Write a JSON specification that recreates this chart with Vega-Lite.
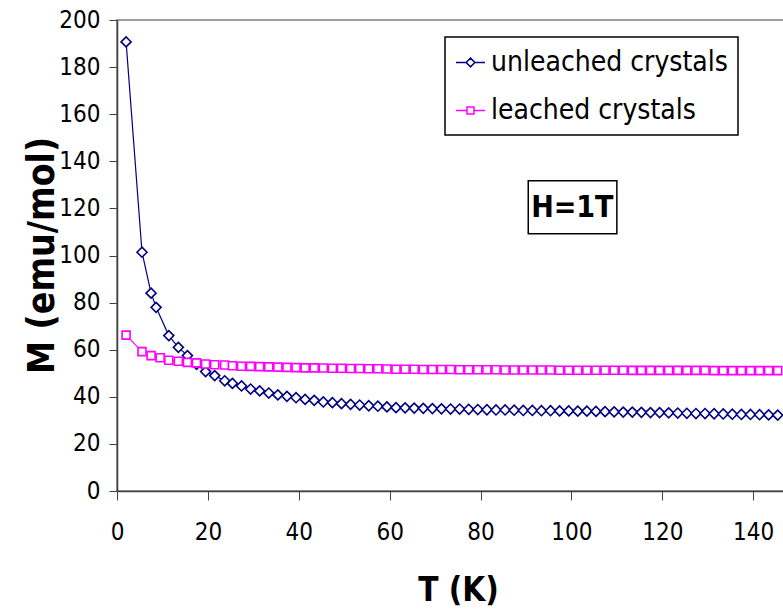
{
  "$schema": "https://vega.github.io/schema/vega-lite/v6.json",
  "autosize": "none",
  "padding": {"left": 117, "top": 20, "right": 0, "bottom": 118},
  "width": 668,
  "height": 471,
  "background": "white",
  "config": {
    "view": {"stroke": "#808080", "strokeWidth": 1.5},
    "font": "DejaVu Sans Condensed",
    "axis": {
      "grid": false,
      "labelFont": "DejaVu Sans Condensed",
      "labelFontSize": 24,
      "labelColor": "black",
      "domainColor": "#404040",
      "domainWidth": 1.5,
      "tickColor": "#404040",
      "tickWidth": 1,
      "titleFont": "DejaVu Sans Condensed",
      "titleFontWeight": "bold",
      "titleColor": "black"
    },
    "legend": {
      "title": null,
      "orient": "none",
      "legendX": 328,
      "legendY": 17,
      "padding": 10,
      "strokeColor": "black",
      "fillColor": "white",
      "labelFont": "DejaVu Sans Condensed",
      "labelFontSize": 28,
      "labelColor": "black",
      "labelLimit": 400,
      "labelOffset": 5,
      "rowPadding": 18,
      "symbolSize": 841,
      "symbolStrokeWidth": 1.5
    }
  },
  "datasets": {
    "m": [
      {"T": 2, "M": 190.7, "series": "unleached crystals"},
      {"T": 5.5, "M": 101.4, "series": "unleached crystals"},
      {"T": 7.5, "M": 84, "series": "unleached crystals"},
      {"T": 8.6, "M": 78, "series": "unleached crystals"},
      {"T": 11.4, "M": 66, "series": "unleached crystals"},
      {"T": 13.5, "M": 61, "series": "unleached crystals"},
      {"T": 15.5, "M": 57.5, "series": "unleached crystals"},
      {"T": 17.5, "M": 53.8, "series": "unleached crystals"},
      {"T": 19.5, "M": 50.7, "series": "unleached crystals"},
      {"T": 21.5, "M": 49, "series": "unleached crystals"},
      {"T": 23.7, "M": 46.8, "series": "unleached crystals"},
      {"T": 25.4, "M": 45.7, "series": "unleached crystals"},
      {"T": 27.4, "M": 44.6, "series": "unleached crystals"},
      {"T": 29.4, "M": 43.3, "series": "unleached crystals"},
      {"T": 31.4, "M": 42.5, "series": "unleached crystals"},
      {"T": 33.4, "M": 41.6, "series": "unleached crystals"},
      {"T": 35.4, "M": 40.8, "series": "unleached crystals"},
      {"T": 37.4, "M": 40.2, "series": "unleached crystals"},
      {"T": 39.4, "M": 39.6, "series": "unleached crystals"},
      {"T": 41.4, "M": 38.9, "series": "unleached crystals"},
      {"T": 43.4, "M": 38.5, "series": "unleached crystals"},
      {"T": 45.4, "M": 37.8, "series": "unleached crystals"},
      {"T": 47.4, "M": 37.5, "series": "unleached crystals"},
      {"T": 49.4, "M": 37.1, "series": "unleached crystals"},
      {"T": 51.4, "M": 36.8, "series": "unleached crystals"},
      {"T": 53.4, "M": 36.5, "series": "unleached crystals"},
      {"T": 55.4, "M": 36.2, "series": "unleached crystals"},
      {"T": 57.4, "M": 36.0, "series": "unleached crystals"},
      {"T": 59.4, "M": 35.7, "series": "unleached crystals"},
      {"T": 61.4, "M": 35.4, "series": "unleached crystals"},
      {"T": 63.4, "M": 35.3, "series": "unleached crystals"},
      {"T": 65.4, "M": 35.2, "series": "unleached crystals"},
      {"T": 67.4, "M": 35.1, "series": "unleached crystals"},
      {"T": 69.4, "M": 35.0, "series": "unleached crystals"},
      {"T": 71.4, "M": 34.9, "series": "unleached crystals"},
      {"T": 73.4, "M": 34.8, "series": "unleached crystals"},
      {"T": 75.4, "M": 34.8, "series": "unleached crystals"},
      {"T": 77.4, "M": 34.7, "series": "unleached crystals"},
      {"T": 79.4, "M": 34.6, "series": "unleached crystals"},
      {"T": 81.4, "M": 34.5, "series": "unleached crystals"},
      {"T": 83.4, "M": 34.4, "series": "unleached crystals"},
      {"T": 85.4, "M": 34.4, "series": "unleached crystals"},
      {"T": 87.4, "M": 34.3, "series": "unleached crystals"},
      {"T": 89.4, "M": 34.2, "series": "unleached crystals"},
      {"T": 91.4, "M": 34.2, "series": "unleached crystals"},
      {"T": 93.4, "M": 34.1, "series": "unleached crystals"},
      {"T": 95.4, "M": 34.1, "series": "unleached crystals"},
      {"T": 97.4, "M": 34.0, "series": "unleached crystals"},
      {"T": 99.4, "M": 34.0, "series": "unleached crystals"},
      {"T": 101.4, "M": 33.9, "series": "unleached crystals"},
      {"T": 103.4, "M": 33.9, "series": "unleached crystals"},
      {"T": 105.4, "M": 33.8, "series": "unleached crystals"},
      {"T": 107.4, "M": 33.7, "series": "unleached crystals"},
      {"T": 109.4, "M": 33.6, "series": "unleached crystals"},
      {"T": 111.4, "M": 33.5, "series": "unleached crystals"},
      {"T": 113.4, "M": 33.5, "series": "unleached crystals"},
      {"T": 115.4, "M": 33.4, "series": "unleached crystals"},
      {"T": 117.4, "M": 33.3, "series": "unleached crystals"},
      {"T": 119.4, "M": 33.3, "series": "unleached crystals"},
      {"T": 121.4, "M": 33.2, "series": "unleached crystals"},
      {"T": 123.4, "M": 33.1, "series": "unleached crystals"},
      {"T": 125.4, "M": 33.0, "series": "unleached crystals"},
      {"T": 127.4, "M": 32.9, "series": "unleached crystals"},
      {"T": 129.4, "M": 32.9, "series": "unleached crystals"},
      {"T": 131.4, "M": 32.8, "series": "unleached crystals"},
      {"T": 133.4, "M": 32.7, "series": "unleached crystals"},
      {"T": 135.4, "M": 32.6, "series": "unleached crystals"},
      {"T": 137.4, "M": 32.5, "series": "unleached crystals"},
      {"T": 139.4, "M": 32.5, "series": "unleached crystals"},
      {"T": 141.4, "M": 32.4, "series": "unleached crystals"},
      {"T": 143.4, "M": 32.3, "series": "unleached crystals"},
      {"T": 145.4, "M": 32.2, "series": "unleached crystals"},
      {"T": 2, "M": 66.2, "series": "leached crystals"},
      {"T": 5.5, "M": 59.2, "series": "leached crystals"},
      {"T": 7.5, "M": 57.5, "series": "leached crystals"},
      {"T": 9.5, "M": 56.6, "series": "leached crystals"},
      {"T": 11.4, "M": 55.5, "series": "leached crystals"},
      {"T": 13.5, "M": 55.1, "series": "leached crystals"},
      {"T": 15.5, "M": 54.6, "series": "leached crystals"},
      {"T": 17.5, "M": 54.4, "series": "leached crystals"},
      {"T": 19.5, "M": 53.9, "series": "leached crystals"},
      {"T": 21.5, "M": 53.6, "series": "leached crystals"},
      {"T": 23.7, "M": 53.5, "series": "leached crystals"},
      {"T": 25.4, "M": 53.2, "series": "leached crystals"},
      {"T": 27.4, "M": 53.0, "series": "leached crystals"},
      {"T": 29.4, "M": 52.9, "series": "leached crystals"},
      {"T": 31.4, "M": 52.8, "series": "leached crystals"},
      {"T": 33.4, "M": 52.7, "series": "leached crystals"},
      {"T": 35.4, "M": 52.6, "series": "leached crystals"},
      {"T": 37.4, "M": 52.5, "series": "leached crystals"},
      {"T": 39.4, "M": 52.4, "series": "leached crystals"},
      {"T": 41.4, "M": 52.3, "series": "leached crystals"},
      {"T": 43.4, "M": 52.3, "series": "leached crystals"},
      {"T": 45.4, "M": 52.2, "series": "leached crystals"},
      {"T": 47.4, "M": 52.1, "series": "leached crystals"},
      {"T": 49.4, "M": 52.1, "series": "leached crystals"},
      {"T": 51.4, "M": 52.0, "series": "leached crystals"},
      {"T": 53.4, "M": 52.0, "series": "leached crystals"},
      {"T": 55.4, "M": 51.9, "series": "leached crystals"},
      {"T": 57.4, "M": 51.9, "series": "leached crystals"},
      {"T": 59.4, "M": 51.8, "series": "leached crystals"},
      {"T": 61.4, "M": 51.7, "series": "leached crystals"},
      {"T": 63.4, "M": 51.7, "series": "leached crystals"},
      {"T": 65.4, "M": 51.7, "series": "leached crystals"},
      {"T": 67.4, "M": 51.6, "series": "leached crystals"},
      {"T": 69.4, "M": 51.6, "series": "leached crystals"},
      {"T": 71.4, "M": 51.6, "series": "leached crystals"},
      {"T": 73.4, "M": 51.6, "series": "leached crystals"},
      {"T": 75.4, "M": 51.5, "series": "leached crystals"},
      {"T": 77.4, "M": 51.5, "series": "leached crystals"},
      {"T": 79.4, "M": 51.5, "series": "leached crystals"},
      {"T": 81.4, "M": 51.5, "series": "leached crystals"},
      {"T": 83.4, "M": 51.5, "series": "leached crystals"},
      {"T": 85.4, "M": 51.4, "series": "leached crystals"},
      {"T": 87.4, "M": 51.4, "series": "leached crystals"},
      {"T": 89.4, "M": 51.4, "series": "leached crystals"},
      {"T": 91.4, "M": 51.4, "series": "leached crystals"},
      {"T": 93.4, "M": 51.4, "series": "leached crystals"},
      {"T": 95.4, "M": 51.4, "series": "leached crystals"},
      {"T": 97.4, "M": 51.3, "series": "leached crystals"},
      {"T": 99.4, "M": 51.3, "series": "leached crystals"},
      {"T": 101.4, "M": 51.3, "series": "leached crystals"},
      {"T": 103.4, "M": 51.3, "series": "leached crystals"},
      {"T": 105.4, "M": 51.3, "series": "leached crystals"},
      {"T": 107.4, "M": 51.3, "series": "leached crystals"},
      {"T": 109.4, "M": 51.3, "series": "leached crystals"},
      {"T": 111.4, "M": 51.3, "series": "leached crystals"},
      {"T": 113.4, "M": 51.2, "series": "leached crystals"},
      {"T": 115.4, "M": 51.2, "series": "leached crystals"},
      {"T": 117.4, "M": 51.2, "series": "leached crystals"},
      {"T": 119.4, "M": 51.2, "series": "leached crystals"},
      {"T": 121.4, "M": 51.2, "series": "leached crystals"},
      {"T": 123.4, "M": 51.2, "series": "leached crystals"},
      {"T": 125.4, "M": 51.2, "series": "leached crystals"},
      {"T": 127.4, "M": 51.2, "series": "leached crystals"},
      {"T": 129.4, "M": 51.2, "series": "leached crystals"},
      {"T": 131.4, "M": 51.1, "series": "leached crystals"},
      {"T": 133.4, "M": 51.1, "series": "leached crystals"},
      {"T": 135.4, "M": 51.1, "series": "leached crystals"},
      {"T": 137.4, "M": 51.1, "series": "leached crystals"},
      {"T": 139.4, "M": 51.1, "series": "leached crystals"},
      {"T": 141.4, "M": 51.1, "series": "leached crystals"},
      {"T": 143.4, "M": 51.1, "series": "leached crystals"},
      {"T": 145.4, "M": 51.1, "series": "leached crystals"}
    ],
    "note": [{"label": "H=1T"}]
  },
  "layer": [
    {
      "data": {"name": "m"},
      "mark": {"type": "line", "strokeWidth": 1.2, "clip": true},
      "encoding": {
        "x": {
          "field": "T", "type": "quantitative",
          "scale": {"domain": [0, 147], "nice": false, "zero": true},
          "axis": {
            "title": "T (K)",
            "values": [0, 20, 40, 60, 80, 100, 120, 140],
            "tickSize": 9,
            "labelPadding": 20,
            "labelFlush": false,
            "titleFontSize": 33,
            "titleBaseline": "alphabetic",
            "titleAnchor": "start",
            "titleAlign": "center",
            "titleX": 341,
            "titleY": 109
          }
        },
        "y": {
          "field": "M", "type": "quantitative",
          "scale": {"domain": [0, 200], "nice": false},
          "axis": {
            "title": "M  (emu/mol)",
            "values": [0, 20, 40, 60, 80, 100, 120, 140, 160, 180, 200],
            "tickSize": 8,
            "labelPadding": 9,
            "titleFontSize": 37,
            "titleAngle": -90,
            "titleBaseline": "alphabetic",
            "titleAnchor": "start",
            "titleAlign": "center",
            "titleX": -64,
            "titleY": 235
          }
        },
        "color": {
          "field": "series", "type": "nominal",
          "scale": {"domain": ["unleached crystals", "leached crystals"], "range": ["#000080", "#FF00FF"]},
          "legend": {
            "encoding": {
              "legend": {"strokeWidth": {"value": 1.5}},
              "symbols": {
                "shape": {"value": {"expr": "datum.value === 'unleached crystals' ? 'M-1,0H-0.3M0.3,0H1M0,-0.3L0.3,0L0,0.3L-0.3,0Z' : 'M-1,0H-0.24M0.24,0H1M-0.24,-0.24H0.24V0.24H-0.24Z'"}},
                "fill": {"value": "white"},
                "size": {"value": 841},
                "strokeWidth": {"value": 1.5}
              }
            }
          }
        },
        "detail": {"field": "series"}
      }
    },
    {
      "data": {"name": "m"},
      "transform": [{"filter": "datum.series === 'unleached crystals'"}],
      "mark": {"type": "point", "shape": "diamond", "size": 100, "filled": false, "fill": "white", "fillOpacity": 1, "opacity": 1, "strokeWidth": 1.6, "clip": true},
      "encoding": {
        "x": {"field": "T", "type": "quantitative"},
        "y": {"field": "M", "type": "quantitative"},
        "color": {
          "field": "series", "type": "nominal",
          "legend": {
            "encoding": {
              "legend": {"strokeWidth": {"value": 1.5}},
              "symbols": {
                "shape": {"value": {"expr": "datum.value === 'unleached crystals' ? 'M-1,0H-0.3M0.3,0H1M0,-0.3L0.3,0L0,0.3L-0.3,0Z' : 'M-1,0H-0.24M0.24,0H1M-0.24,-0.24H0.24V0.24H-0.24Z'"}},
                "fill": {"value": "white"},
                "size": {"value": 841},
                "strokeWidth": {"value": 1.5}
              }
            }
          }
        }
      }
    },
    {
      "data": {"name": "m"},
      "transform": [{"filter": "datum.series === 'leached crystals'"}],
      "mark": {"type": "point", "shape": "square", "size": 64, "filled": false, "fill": "white", "fillOpacity": 1, "opacity": 1, "strokeWidth": 1.6, "clip": true},
      "encoding": {
        "x": {"field": "T", "type": "quantitative"},
        "y": {"field": "M", "type": "quantitative"},
        "color": {
          "field": "series", "type": "nominal",
          "legend": {
            "encoding": {
              "legend": {"strokeWidth": {"value": 1.5}},
              "symbols": {
                "shape": {"value": {"expr": "datum.value === 'unleached crystals' ? 'M-1,0H-0.3M0.3,0H1M0,-0.3L0.3,0L0,0.3L-0.3,0Z' : 'M-1,0H-0.24M0.24,0H1M-0.24,-0.24H0.24V0.24H-0.24Z'"}},
                "fill": {"value": "white"},
                "size": {"value": 841},
                "strokeWidth": {"value": 1.5}
              }
            }
          }
        }
      }
    },
    {
      "data": {"name": "note"},
      "mark": {"type": "rect", "fill": "white", "stroke": "black", "strokeWidth": 1.5},
      "encoding": {
        "x": {"datum": 90.5, "type": "quantitative"},
        "x2": {"datum": 110.0},
        "y": {"datum": 131.7, "type": "quantitative"},
        "y2": {"datum": 109.2}
      }
    },
    {
      "data": {"name": "note"},
      "mark": {"type": "text", "font": "DejaVu Sans Condensed", "fontWeight": "bold", "fontSize": 30, "color": "black", "align": "center", "baseline": "middle", "dy": 1},
      "encoding": {
        "x": {"datum": 100.2, "type": "quantitative"},
        "y": {"datum": 120.5, "type": "quantitative"},
        "text": {"field": "label"}
      }
    }
  ]
}
